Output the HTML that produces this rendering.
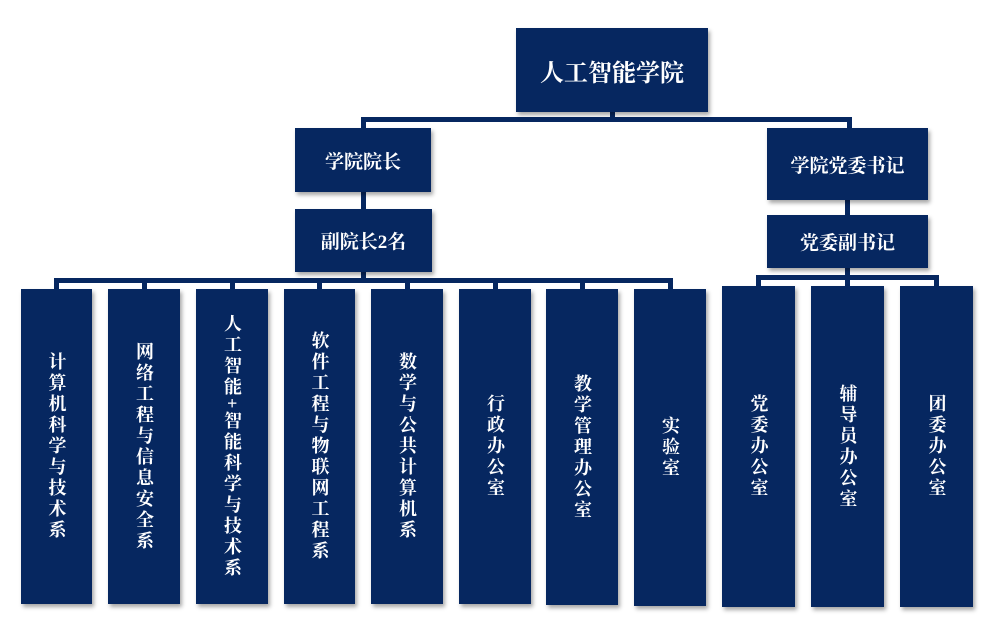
<!DOCTYPE html>
<html><head><meta charset="utf-8"><style>
body{margin:0;width:987px;height:618px;background:#fff;position:relative;overflow:hidden;font-family:"Liberation Serif","Noto Serif CJK SC",serif;}
.b{position:absolute;background:#062760;color:#fff;display:flex;align-items:center;justify-content:center;box-shadow:2px 3px 4px rgba(0,0,0,.35);font-weight:bold;}
.v{writing-mode:vertical-rl;font-size:18px;letter-spacing:3px;line-height:1;}
.l{position:absolute;background:#062760;}
</style></head><body>
<!-- connectors -->
<div class="l" style="left:362px;top:117px;width:490px;height:5px;border-radius:3px 3px 0 0"></div>
<div class="l" style="left:610px;top:110px;width:5px;height:10px"></div>
<div class="l" style="left:361px;top:117px;width:5px;height:14px"></div>
<div class="l" style="left:847px;top:117px;width:5px;height:14px"></div>
<div class="l" style="left:361px;top:190px;width:5px;height:22px"></div>
<div class="l" style="left:845px;top:198px;width:5px;height:20px"></div>
<div class="l" style="left:54px;top:278px;width:619px;height:5px;border-radius:3px 3px 0 0"></div>
<div class="l" style="left:361px;top:270px;width:5px;height:12px"></div>
<div class="l" style="left:756px;top:275px;width:183px;height:5px;border-radius:3px 3px 0 0"></div>
<div class="l" style="left:845px;top:266px;width:5px;height:12px"></div>
<div class="l" style="left:54px;top:278px;width:5px;height:12px"></div>
<div class="l" style="left:142px;top:278px;width:5px;height:12px"></div>
<div class="l" style="left:230px;top:278px;width:5px;height:12px"></div>
<div class="l" style="left:317px;top:278px;width:5px;height:12px"></div>
<div class="l" style="left:405px;top:278px;width:5px;height:12px"></div>
<div class="l" style="left:493px;top:278px;width:5px;height:12px"></div>
<div class="l" style="left:580px;top:278px;width:5px;height:12px"></div>
<div class="l" style="left:668px;top:278px;width:5px;height:12px"></div>
<div class="l" style="left:756px;top:275px;width:5px;height:12px"></div>
<div class="l" style="left:845px;top:275px;width:5px;height:12px"></div>
<div class="l" style="left:934px;top:275px;width:5px;height:12px"></div>
<!-- top boxes -->
<div class="b" style="left:516px;top:28px;width:192px;height:84px;font-size:24px">人工智能学院</div>
<div class="b" style="left:295px;top:128px;width:136px;height:64px;font-size:19px">学院院长</div>
<div class="b" style="left:767px;top:128px;width:161px;height:72px;font-size:19px">学院党委书记</div>
<div class="b" style="left:295px;top:209px;width:137px;height:63px;font-size:19px">副院长2名</div>
<div class="b" style="left:767px;top:215px;width:161px;height:53px;font-size:19px">党委副书记</div>
<!-- left columns -->
<div class="b v" style="left:21px;top:289px;width:71px;height:315px">计算机科学与技术系</div>
<div class="b v" style="left:108px;top:289px;width:72px;height:315px">网络工程与信息安全系</div>
<div class="b v" style="left:196px;top:289px;width:72px;height:315px">人工智能+智能科学与技术系</div>
<div class="b v" style="left:284px;top:289px;width:71px;height:315px">软件工程与物联网工程系</div>
<div class="b v" style="left:371px;top:289px;width:72px;height:315px">数学与公共计算机系</div>
<div class="b v" style="left:459px;top:289px;width:72px;height:315px">行政办公室</div>
<div class="b v" style="left:546px;top:289px;width:72px;height:316px">教学管理办公室</div>
<div class="b v" style="left:634px;top:289px;width:72px;height:317px">实验室</div>
<!-- right columns -->
<div class="b v" style="left:722px;top:286px;width:73px;height:321px">党委办公室</div>
<div class="b v" style="left:811px;top:286px;width:73px;height:321px">辅导员办公室</div>
<div class="b v" style="left:900px;top:286px;width:73px;height:321px">团委办公室</div>
</body></html>
